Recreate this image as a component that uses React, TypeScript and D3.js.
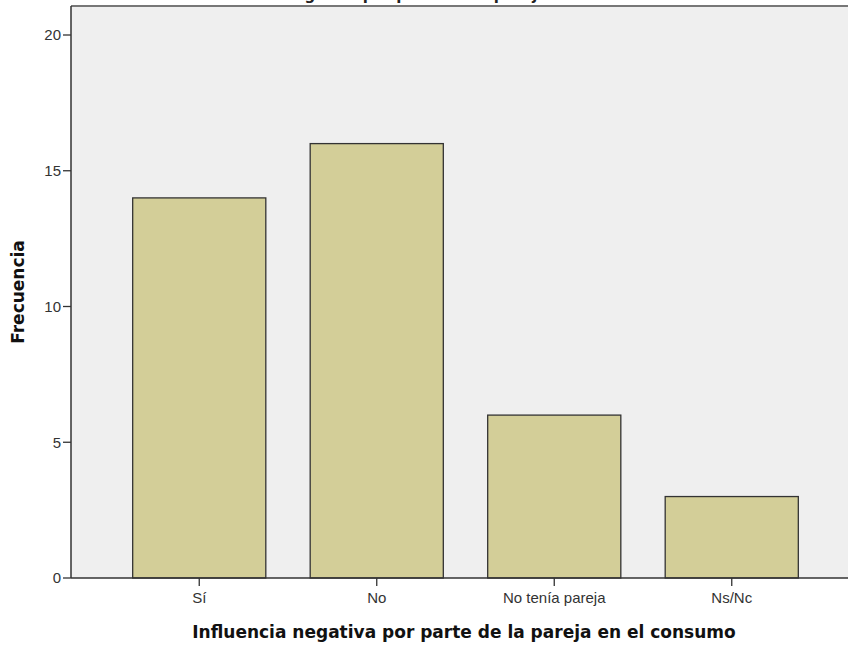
import React from "react";
import * as d3 from "d3";

const categories = ["Sí", "No", "No tenía pareja", "Ns/Nc"];
const frequencies = [14, 16, 6, 3];
const yTicks = [0, 5, 10, 15, 20];
const xTitle = "Influencia negativa por parte de la pareja en el consumo";
const yTitle = "Frecuencia";
const chartTitle = "Influencia negativa por parte de la pareja en el consumo";

const W = 848;
const H = 646;
const left = 71;
const right = 860;
const top = 6;
const bottom = 578;

export default function App() {
  const x = d3
    .scaleBand<string>()
    .domain(categories)
    .range([left, right])
    .paddingInner(0.25)
    .paddingOuter(0.3475);
  const y = d3.scaleLinear().domain([0, 20]).range([bottom, 35]);
  const sans = "'Liberation Sans', Arial, sans-serif";
  const bold = "'DejaVu Sans', Verdana, sans-serif";

  return (
    <svg
      width={W}
      height={H}
      style={{ position: "absolute", left: 0, top: 0, background: "#fff" }}
    >
      <text
        x={435}
        y={-0.5}
        textAnchor="middle"
        fontFamily={bold}
        fontWeight="bold"
        fontSize={15}
        fill="#222"
      >
        {chartTitle}
      </text>
      <rect x={left} y={top} width={right - left} height={bottom - top} fill="#efefef" />
      <line x1={left} x2={W} y1={top} y2={top} stroke="#777" strokeWidth={2} />
      {categories.map((c, i) => (
        <rect
          key={c}
          x={x(c)}
          y={y(frequencies[i])}
          width={x.bandwidth()}
          height={bottom - y(frequencies[i])}
          fill="#d3ce98"
          stroke="#333"
          strokeWidth={1.3}
        />
      ))}
      <line x1={left} x2={left} y1={top} y2={bottom} stroke="#333" strokeWidth={1.5} />
      <line x1={left} x2={W} y1={bottom} y2={bottom} stroke="#333" strokeWidth={1.5} />
      {yTicks.map((t) => (
        <g key={t}>
          <line x1={left - 8} x2={left} y1={y(t)} y2={y(t)} stroke="#333" strokeWidth={1.3} />
          <text
            x={left - 10}
            y={y(t)}
            dy="0.36em"
            textAnchor="end"
            fontFamily={sans}
            fontSize={15}
            fill="#333"
          >
            {t}
          </text>
        </g>
      ))}
      {categories.map((c) => {
        const cx = (x(c) as number) + x.bandwidth() / 2;
        return (
          <g key={c}>
            <line x1={cx} x2={cx} y1={bottom} y2={bottom + 8} stroke="#333" strokeWidth={1.3} />
            <text
              x={cx}
              y={603}
              textAnchor="middle"
              fontFamily={sans}
              fontSize={15}
              fill="#333"
            >
              {c}
            </text>
          </g>
        );
      })}
      <text
        x={464}
        y={638}
        textAnchor="middle"
        fontFamily={bold}
        fontWeight="bold"
        fontSize={17}
        fill="#111"
      >
        {xTitle}
      </text>
      <text
        transform={`translate(24,${(top + bottom) / 2}) rotate(-90)`}
        textAnchor="middle"
        fontFamily={bold}
        fontWeight="bold"
        fontSize={17}
        fill="#111"
      >
        {yTitle}
      </text>
    </svg>
  );
}
